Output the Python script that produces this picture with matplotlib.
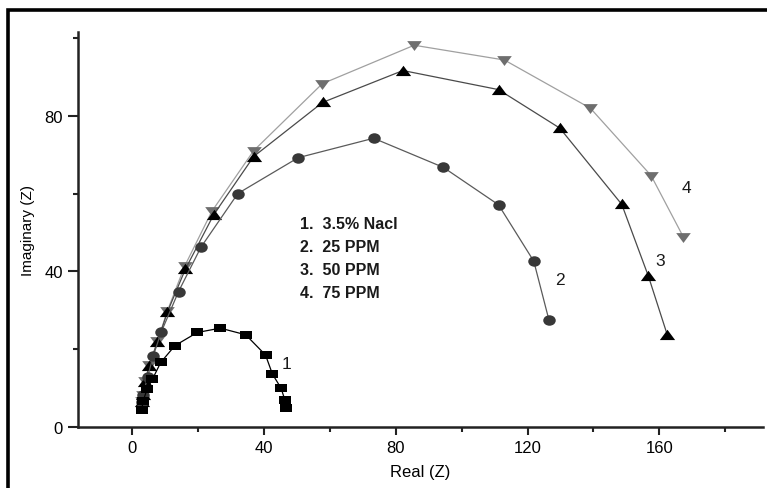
import matplotlib
matplotlib.use('Agg')
import matplotlib.pyplot as plt
from matplotlib.patches import Rectangle
from matplotlib.path import Path
from matplotlib.transforms import Affine2D
from matplotlib.ticker import MultipleLocator

plt.rcParams['font.family'] = 'Liberation Sans'
plt.rcParams['font.size'] = 12

# Nyquist data, Real (Z) vs Imaginary (Z)
nacl_re = [2.9, 3.4, 4.6, 6.2, 8.7, 13.0, 19.8, 26.8, 34.5, 40.5, 42.6, 45.2, 46.4, 46.7]
nacl_im = [4.4, 6.8, 9.8, 12.3, 16.6, 20.9, 24.3, 25.4, 23.7, 18.5, 13.6, 10.0, 6.9, 4.8]

ppm25_re = [3.0, 3.3, 4.7, 6.4, 8.8, 14.1, 20.9, 32.1, 50.4, 73.3, 94.5, 111.2, 121.9, 126.5]
ppm25_im = [6.5, 8.2, 12.8, 18.2, 24.3, 34.8, 46.2, 60.0, 69.2, 74.2, 66.7, 57.1, 42.6, 27.5]

ppm50_re = [3.0, 3.3, 4.0, 5.2, 7.7, 10.7, 16.2, 24.8, 36.9, 57.8, 82.2, 111.2, 129.8, 148.6, 156.7, 162.4]
ppm50_im = [6.5, 8.1, 11.5, 15.8, 21.8, 29.5, 40.6, 54.6, 69.5, 83.4, 91.6, 86.7, 76.8, 57.2, 38.7, 23.7]

ppm75_re = [3.0, 3.3, 4.0, 5.2, 7.7, 10.7, 16.0, 24.2, 36.9, 57.7, 85.6, 113.0, 139.1, 157.5, 167.3]
ppm75_im = [6.7, 8.3, 11.7, 16.0, 22.0, 29.8, 41.4, 55.4, 71.0, 88.2, 98.1, 94.3, 81.9, 64.6, 48.8]

legend_lines = ['1.  3.5% Nacl', '2.  25 PPM', '3.  50 PPM', '4.  75 PPM']
curve_tags = ['1', '2', '3', '4']
tag_pos = [(47.0, 16.4), (129.7, 37.8), (160.2, 42.8), (168.3, 61.6)]

# slightly wide markers (the plot is drawn a bit stretched sideways)
sq_mark = [(-1, -0.75), (1, -0.75), (1, 0.75), (-1, 0.75), (-1, -0.75)]
up_mark = [(-1, -0.6), (1, -0.6), (0, 0.75), (-1, -0.6)]
down_mark = [(-1, 0.6), (1, 0.6), (0, -0.75), (-1, 0.6)]
oval_mark = Affine2D().scale(1.0, 0.84).transform_path(Path.unit_circle())

fig = plt.figure(figsize=(7.67, 4.89), dpi=100)
ax = fig.add_axes([0.1017, 0.1247, 0.8933, 0.8078])

ax.plot(ppm75_re, ppm75_im, color='#a0a0a0', lw=0.9, marker=down_mark, ms=10.5,
        mfc='#6e6e6e', mec='#6e6e6e', mew=0, zorder=2)
ax.plot(ppm50_re, ppm50_im, color='#4a4a4a', lw=0.9, marker=up_mark, ms=11,
        mfc='black', mec='black', mew=0, zorder=3)
ax.plot(ppm25_re, ppm25_im, color='#5a5a5a', lw=0.9, marker=oval_mark, ms=9,
        mfc='#383838', mec='#383838', mew=0, zorder=4)
ax.plot(nacl_re, nacl_im, color='black', lw=0.9, marker=sq_mark, ms=8,
        mfc='black', mec='black', mew=0, zorder=5)

ax.set_xlim(-16.4, 191.5)
ax.set_ylim(0, 101.5)
ax.xaxis.set_major_locator(MultipleLocator(40))
ax.xaxis.set_minor_locator(MultipleLocator(20))
ax.yaxis.set_major_locator(MultipleLocator(40))
ax.yaxis.set_minor_locator(MultipleLocator(20))
ax.tick_params(which='both', direction='out', width=1.5, color='#222222')
ax.tick_params(axis='x', which='major', length=5.5, pad=4)
ax.tick_params(axis='y', which='major', length=7, pad=4)
ax.tick_params(which='minor', length=3.5)

for side in ['top', 'right']:
    ax.spines[side].set_visible(False)
for side in ['left', 'bottom']:
    ax.spines[side].set_linewidth(1.8)
    ax.spines[side].set_color('#222222')

ax.set_xlabel('Real (Z)', fontsize=12, labelpad=6)
ax.set_ylabel('Imaginary (Z)', fontsize=11, labelpad=7)

# Legend block written as plain text lines
for i, line in enumerate(legend_lines):
    ax.text(50.9, 52.2 - i * 5.9, line, fontsize=11.5, fontweight='bold',
            color='#1a1a1a', va='center', ha='left')

for tag, (x, y) in zip(curve_tags, tag_pos):
    ax.text(x, y, tag, fontsize=12.5, va='center', ha='center', color='#1a1a1a')

# Heavy outer frame
fig.patches.append(Rectangle((0.0104, -0.2), 1.2, 1.1765,
                             transform=fig.transFigure, fill=False,
                             edgecolor='black', linewidth=2.6))

fig.savefig('out.png', dpi=100)
